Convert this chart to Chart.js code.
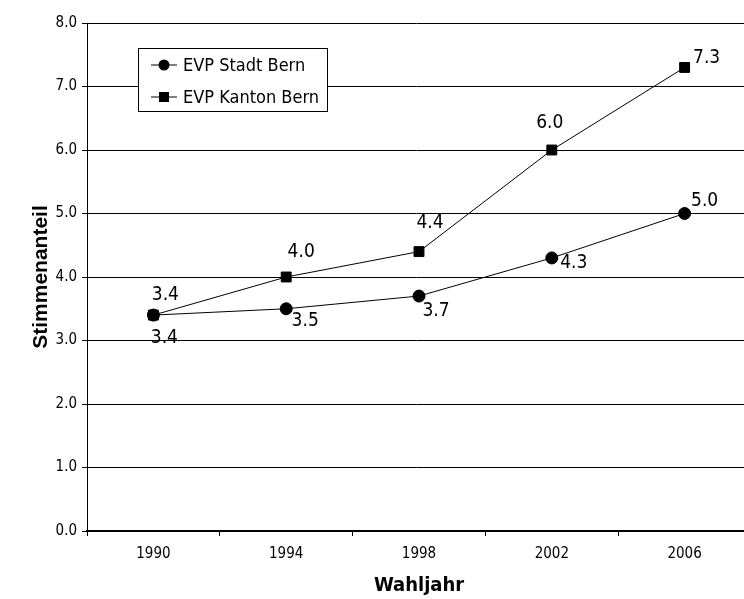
<!DOCTYPE html>
<html>
<head>
<meta charset="utf-8">
<script src="https://cdn.jsdelivr.net/npm/chart.js@4.4.1/dist/chart.umd.min.js"></script>
<style>
  html, body { margin: 0; padding: 0; background: #fff; overflow: hidden; }
  #wrap { position: relative; width: 744px; height: 599px; }
</style>
</head>
<body>
<div id="wrap"><canvas id="chart"></canvas></div>
<script>
// Wahljahre und Stimmenanteile (in %)
const years = ['1990', '1994', '1998', '2002', '2006'];
const stadtBern = [3.4, 3.5, 3.7, 4.3, 5.0];
const kantonBern = [3.4, 4.0, 4.4, 6.0, 7.3];
const seriesNames = ['EVP Stadt Bern', 'EVP Kanton Bern'];

const narrow = '"Liberation Sans Narrow", "Arial Narrow", "DejaVu Sans Condensed", sans-serif';

// the original plot runs a few pixels past the right edge of the picture
const overhang = {
  id: 'overhang',
  afterLayout(chart, args, opts) {
    const x = chart.scales.x;
    chart.chartArea.right += opts.px;
    chart.chartArea.width += opts.px;
    x.right += opts.px;
    x.width += opts.px;
    x.configure();
  }
};

// value labels next to each point (offset from the marker, per series)
const valueLabels = {
  id: 'valueLabels',
  afterDatasetsDraw(chart, args, opts) {
    const ctx = chart.ctx;
    ctx.save();
    ctx.font = '19px ' + narrow;
    ctx.fillStyle = '#000';
    ctx.textAlign = 'center';
    ctx.textBaseline = 'middle';
    chart.data.datasets.forEach((ds, di) => {
      const meta = chart.getDatasetMeta(di);
      meta.data.forEach((pt, i) => {
        const [dx, dy] = opts.offsets[di][i];
        ctx.fillText(ds.data[i].toFixed(1), pt.x + dx, pt.y + dy);
      });
    });
    ctx.restore();
  }
};

// boxed legend drawn inside the plot, like the original
const boxLegend = {
  id: 'boxLegend',
  afterDraw(chart, args, opts) {
    const ctx = chart.ctx;
    const { x, y, w, h } = opts;
    ctx.save();
    ctx.fillStyle = '#fff';
    ctx.fillRect(x, y, w, h);
    ctx.strokeStyle = '#000';
    ctx.lineWidth = 1;
    ctx.strokeRect(x + 0.5, y + 0.5, w, h);
    ctx.font = '18px ' + narrow;
    ctx.textBaseline = 'middle';
    ctx.fillStyle = '#000';
    chart.data.datasets.forEach((ds, i) => {
      const ry = y + 17 + i * 32;
      ctx.beginPath();
      ctx.moveTo(x + 13, ry);
      ctx.lineTo(x + 39, ry);
      ctx.stroke();
      if (ds.pointStyle === 'circle') {
        ctx.beginPath();
        ctx.arc(x + 26, ry, 5.5, 0, Math.PI * 2);
        ctx.fill();
      } else {
        ctx.fillRect(x + 21, ry - 5, 10, 10);
      }
      ctx.fillText(ds.label, x + 45, ry + 1);
    });
    ctx.restore();
  }
};

new Chart(document.getElementById('chart'), {
  type: 'line',
  data: {
    labels: years,
    datasets: [
      {
        label: seriesNames[0],
        data: stadtBern,
        borderColor: '#000',
        backgroundColor: '#000',
        borderWidth: 1,
        pointStyle: 'circle',
        pointRadius: 6,
        pointHoverRadius: 6,
        tension: 0
      },
      {
        label: seriesNames[1],
        data: kantonBern,
        borderColor: '#000',
        backgroundColor: '#000',
        borderWidth: 1,
        pointStyle: 'rect',
        pointRadius: 7,
        pointHoverRadius: 7,
        tension: 0
      }
    ]
  },
  options: {
    responsive: true,
    maintainAspectRatio: false,
    animation: false,
    layout: { padding: { top: 23, right: 0, bottom: 0, left: 0 } },
    plugins: {
      legend: { display: false },
      tooltip: { enabled: false },
      overhang: { px: 15 },
      valueLabels: {
        offsets: [
          [[11, 23], [19, 12], [17, 15], [22, 5], [20, -12]],
          [[12, -20], [15, -25], [11, -29], [-2, -27], [22, -9]]
        ]
      },
      boxLegend: { x: 138, y: 48, w: 189, h: 63 }
    },
    scales: {
      x: {
        offset: true,
        afterFit: s => { s.height = 68; },
        grid: {
          display: true,
          drawOnChartArea: false,
          drawTicks: true,
          tickLength: 5,
          offset: true,
          color: '#000'
        },
        border: { display: true, color: '#000', width: 2 },
        ticks: {
          color: '#000',
          font: { family: narrow, size: 15 },
          padding: 9,
          maxRotation: 0
        },
        title: {
          display: true,
          text: 'Wahljahr',
          color: '#000',
          font: { family: narrow, size: 20, weight: 'bold' },
          padding: { top: 0, bottom: 1 }
        }
      },
      y: {
        min: 0,
        max: 8,
        afterFit: s => { s.width = 87; },
        grid: { color: '#000', lineWidth: 1, tickLength: 5 },
        border: { display: true, color: '#000', width: 1 },
        ticks: {
          stepSize: 1,
          color: '#000',
          font: { family: narrow, size: 15 },
          padding: 5,
          callback: v => v.toFixed(1)
        },
        title: {
          display: true,
          text: 'Stimmenanteil',
          color: '#000',
          font: { family: '"Liberation Sans", Arial, sans-serif', size: 21, weight: 'bold' },
          padding: { top: 29, bottom: 0 }
        }
      }
    }
  },
  plugins: [overhang, valueLabels, boxLegend]
});
</script>
</body>
</html>
